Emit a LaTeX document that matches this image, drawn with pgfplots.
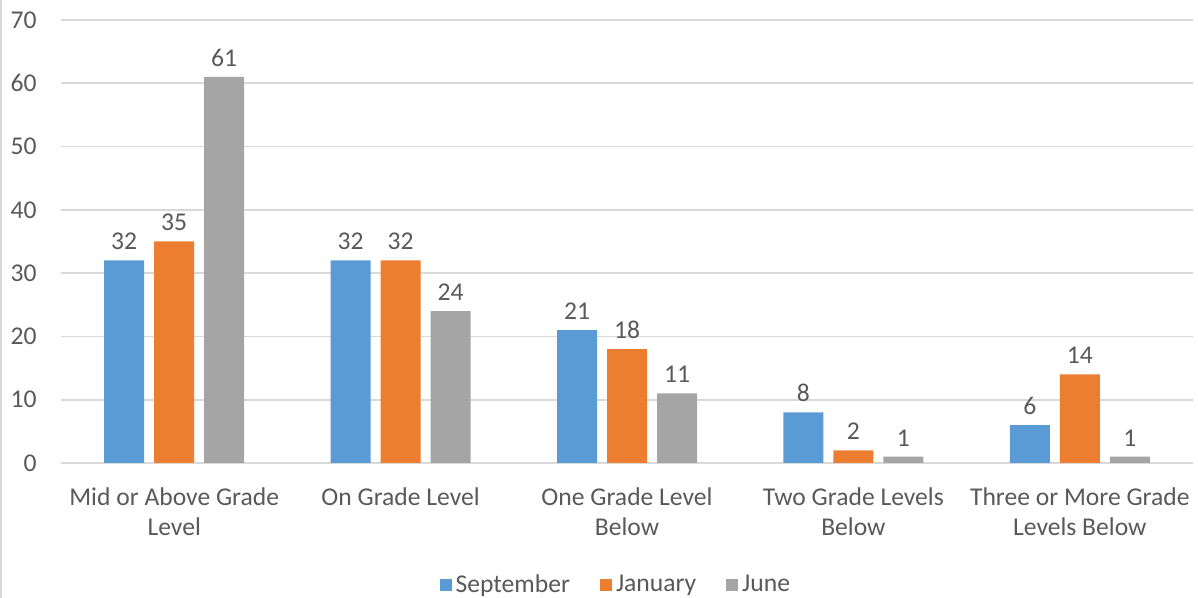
\documentclass[border=0pt]{standalone}
\usepackage{fontspec}
\setmainfont{Carlito}
\usepackage{pgfplots}
\pgfplotsset{compat=1.18}

\definecolor{sepblue}{HTML}{5B9BD5}
\definecolor{janorange}{HTML}{ED7D31}
\definecolor{junegray}{HTML}{A5A5A5}
\definecolor{gridgray}{HTML}{D9D9D9}
\definecolor{txtgray}{HTML}{595959}

\begin{document}
\begin{tikzpicture}
\path[use as bounding box] (-30.5pt,-67.5pt) rectangle (568.5pt,231.5pt);
\draw[gridgray, line width=1pt] (-30pt,-67.5pt) -- (-30pt,231.5pt);
\begin{axis}[
  scale only axis,
  width=566pt, height=221.5pt,
  ybar, bar width=20pt, ybar=5pt,
  xmin=-0.5, xmax=4.5,
  ymin=0, ymax=70,
  ytick={0,10,...,70},
  xtick=data,
  xticklabels={{Mid or Above Grade\\Level},{On Grade Level},{One Grade Level\\Below},{Two Grade Levels\\Below},{Three or More Grade\\Levels Below}},
  major tick length=0pt,
  axis line style={draw=none},
  ymajorgrids, grid style={gridgray, line width=0.8pt},
  /pgf/number format/assume math mode=true,
  tick label style={font=\fontsize{12.8}{15}\selectfont, text=txtgray},
  yticklabel style={inner sep=0pt, xshift=-12pt, anchor=east},
  xticklabel style={inner sep=0pt, yshift=-12pt, anchor=north, align=center},
  nodes near coords,
  nodes near coords style={font=\fontsize{12.8}{15}\selectfont, text=txtgray, inner sep=0pt, yshift=5pt, anchor=south},
  legend columns=3,
  legend style={draw=none, fill=none, at={(axis description cs:0.491,-0.275)}, anchor=center,
    font=\fontsize{12.8}{15}\selectfont, text=txtgray,
    /tikz/every even column/.append style={column sep=13pt}},
  legend image code/.code={\fill[#1, draw=none] (0pt,-3pt) rectangle (6pt,3pt);},
]
% September
\addplot[fill=sepblue, draw=none] coordinates {(0,32) (1,32) (2,21) (3,8) (4,6)};
% January
\addplot[fill=janorange, draw=none] coordinates {(0,35) (1,32) (2,18) (3,2) (4,14)};
% June
\addplot[fill=junegray, draw=none] coordinates {(0,61) (1,24) (2,11) (3,1) (4,1)};
\legend{September, January, June}
\end{axis}
\end{tikzpicture}
\end{document}
